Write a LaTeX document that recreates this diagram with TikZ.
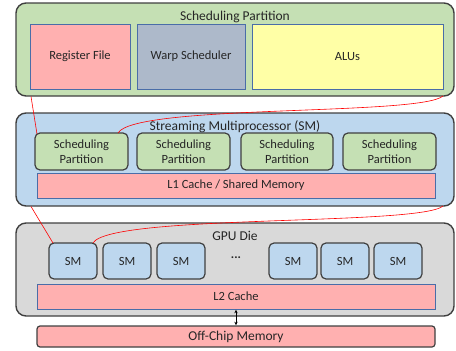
\documentclass[tikz,border=0pt]{standalone}
\usepackage{fontspec}
\setmainfont{Carlito}
\usetikzlibrary{arrows.meta}
\definecolor{cgreen}{HTML}{C5E0B4}
\definecolor{cpink}{HTML}{FFB0B0}
\definecolor{cslate}{HTML}{ADB9CA}
\definecolor{cyellow}{HTML}{FFFFA6}
\definecolor{cblue}{HTML}{BDD7EE}
\definecolor{cgrey}{HTML}{D9D9D9}
\definecolor{cdark}{HTML}{404040}
\definecolor{cedge}{HTML}{4A6DA8}
\begin{document}
\begin{tikzpicture}[x=1pt,y=-1pt,
  outerbox/.style={draw=cdark,line width=1.4pt,rounded corners=10pt},
  innerbox/.style={draw=cedge,line width=0.7pt},
  smallbox/.style={draw=cdark,line width=1.2pt,rounded corners=5pt},
  title/.style={font=\fontsize{13.5}{14}\selectfont,text=black!85},
  lab/.style={font=\fontsize{12.5}{13}\selectfont,text=black!85,align=center},
  link/.style={draw=red,line width=0.6pt}]
\useasboundingbox (0,0) rectangle (456,351);
% Scheduling Partition detail
\path[outerbox,fill=cgreen] (16,3) rectangle (454,96);
\node[title] (tsp) at (235,16.5) {Scheduling Partition};
\path[innerbox,fill=cpink] (30,24) rectangle (130,89);
\node[lab] (rf) at (80,56.5) {Register File};
\path[innerbox,fill=cslate] (137,24) rectangle (245,89);
\node[lab] (ws) at (191,56.5) {Warp Scheduler};
\path[innerbox,fill=cyellow] (252,24) rectangle (443,89);
\node[lab] (alu) at (347.5,56.5) {ALUs};
% SM
\path[outerbox,fill=cblue] (16,113) rectangle (454,206);
\node[title] (tsm) at (235,126.5) {Streaming Multiprocessor (SM)};
\foreach \a/\b [count=\i] in {35/128,137/230,241/333,343/436}{
  \path[smallbox,fill=cgreen] (\a,133) rectangle (\b,170);
  \node[lab,font=\fontsize{12.5}{14.5}\selectfont] (sp\i) at ({(\a+\b)/2},151.5) {Scheduling\\Partition};
}
\path[innerbox,fill=cpink] (37,173) rectangle (435,198);
\node[lab] (l1) at (236,185.5) {L1 Cache / Shared Memory};
% GPU die
\path[outerbox,fill=cgrey] (16,223) rectangle (454,316);
\node[title] (tgpu) at (235,236) {GPU Die};
\foreach \a/\b [count=\i] in {49/97,103/151,157/205,269/317,321/369,374/422}{
  \path[smallbox,fill=cblue] (\a,243) rectangle (\b,279);
  \node[lab] (sm\i) at ({(\a+\b)/2},261) {SM};
}
\node[lab] (dots) at (236,258) {\textbf{...}};
\path[innerbox,fill=cpink] (37,284) rectangle (435,309);
\node[lab] (l2) at (236,296.5) {L2 Cache};
\path[smallbox,fill=cpink,rounded corners=3pt] (37,326) rectangle (435,347);
\node[title] (off) at (236,336.5) {Off-Chip Memory};
\coordinate (l2b) at (236,309.8);
\coordinate (offt) at (236,325.2);
\draw[{Stealth[length=3.5pt,width=3.5pt]}-{Stealth[length=3.5pt,width=3.5pt]},line width=0.6pt] (l2b) -- (offt);
% red links
\coordinate (a1) at (31,96.5);
\coordinate (a2) at (37,134);
\coordinate (b1) at (443,96);
\coordinate (b2) at (118,133);
\draw[link] (a1) -- (a2);
\draw[link] (b2) .. controls (135,104) and (420,116) .. (b1);
\coordinate (c1) at (31,206.5);
\coordinate (c2) at (53,243);
\coordinate (d1) at (443,206);
\coordinate (d2) at (93,243);
\draw[link] (c1) -- (c2);
\draw[link] (d2) .. controls (110,214) and (420,226) .. (d1);
\end{tikzpicture}
\end{document}
